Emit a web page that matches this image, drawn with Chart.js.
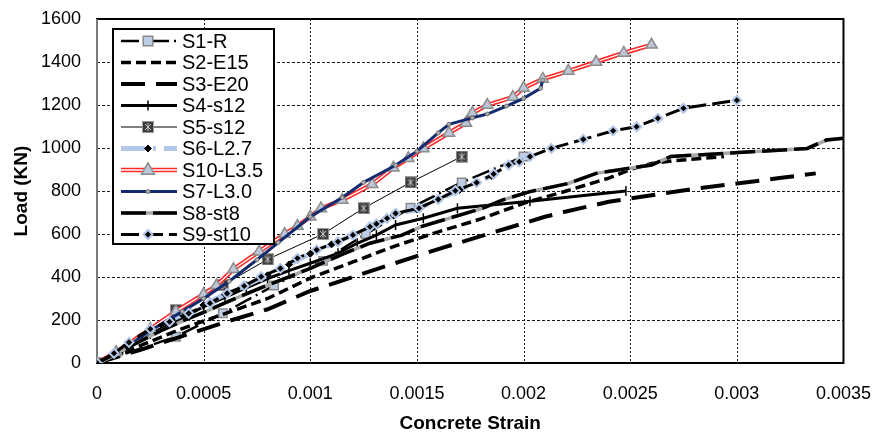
<!DOCTYPE html>
<html>
<head>
<title>Load vs Concrete Strain</title>
<script src="https://cdn.jsdelivr.net/npm/chart.js"></script>
<style>
  body { margin: 0; background: #fff; }
</style>
</head>
<body>
<canvas id="strainChart" width="883" height="435"></canvas>
<script>
// tick labels
const xTicks = [0, 0.0005, 0.001, 0.0015, 0.002, 0.0025, 0.003, 0.0035];
const yTicks = [0, 200, 400, 600, 800, 1000, 1200, 1400, 1600];

// [strain, load kN]
const S1 = [[0,0],[0.00037,122],[0.00059,231],[0.00083,360],[0.00106,475],[0.00126,600],[0.00147,722],[0.00171,840],[0.002,960]];
const S2 = [[0,0],[0.0002,80],[0.0004,160],[0.0006,230],[0.0008,300],[0.001,395],[0.0012,470],[0.0014,545],[0.0016,610],[0.0018,670],[0.002,743],[0.0022,800],[0.0024,860],[0.0025,900],[0.0026,928],[0.0027,940],[0.00294,960]];
const S3 = [[0,0],[0.0002,60],[0.0004,125],[0.0006,190],[0.0008,250],[0.001,335],[0.0012,400],[0.0014,465],[0.0016,530],[0.0018,590],[0.002,650],[0.0021,680],[0.0022,705],[0.0024,750],[0.0026,780],[0.0028,810],[0.003,835],[0.0032,860],[0.00337,882]];
const S4 = [[0,0],[0.00012,62],[0.00025,135],[0.0004,210],[0.0005,262],[0.0006,305],[0.0007,350],[0.0008,392],[0.0009,430],[0.001,464],[0.00113,510],[0.00122,557],[0.00131,595],[0.0014,642],[0.00153,673],[0.00169,720],[0.00203,752],[0.00248,800]];
const S5 = [[0,0],[0.00037,246],[0.00059,362],[0.0008,482],[0.00106,600],[0.00125,720],[0.00147,840],[0.00171,960]];
const S6 = [[0,0],[0.0001,50],[0.0002,120],[0.0003,180],[0.0004,225],[0.0005,270],[0.0006,320],[0.0007,362],[0.0008,408],[0.0009,458],[0.001,508],[0.0011,552],[0.0012,595],[0.0013,640],[0.0014,690],[0.0015,715],[0.0016,760],[0.0017,805],[0.00185,870]];
const S10 = [[0,0],[0.00009,50],[0.00025,158],[0.00037,240],[0.0005,320],[0.00056,360],[0.00064,436],[0.00076,518],[0.00088,600],[0.00094,637],[0.001,680],[0.00105,719],[0.00115,758],[0.00129,831],[0.00139,908],[0.00146,952],[0.00153,998],[0.00165,1070],[0.00173,1116],[0.00176,1163],[0.00183,1200],[0.00195,1237],[0.002,1279],[0.00209,1321],[0.00221,1358],[0.00234,1400],[0.00247,1442],[0.0026,1480]];
const S7 = [[0,0],[0.0001,50],[0.00025,150],[0.0004,240],[0.0005,300],[0.00062,380],[0.00075,480],[0.00085,560],[0.001,680],[0.00115,770],[0.00125,840],[0.0014,920],[0.0015,985],[0.0016,1070],[0.00165,1110],[0.00176,1140],[0.00183,1158],[0.00192,1195],[0.002,1231],[0.00208,1278],[0.00209,1316]];
const S8 = [[0,0],[0.0001,50],[0.0002,100],[0.0003,150],[0.0004,195],[0.0005,235],[0.0006,280],[0.0007,322],[0.0008,362],[0.0009,401],[0.001,440],[0.00116,510],[0.00128,557],[0.00143,595],[0.00152,634],[0.00165,673],[0.00181,720],[0.0019,758],[0.00203,797],[0.00221,835],[0.00234,882],[0.0026,921],[0.00269,960],[0.00333,998],[0.00342,1037],[0.0035,1045]];
const S9 = [[0,0],[0.00008,45],[0.00015,96],[0.00025,158],[0.00034,192],[0.00043,231],[0.00053,278],[0.00061,324],[0.00069,358],[0.00077,401],[0.00086,440],[0.00094,487],[0.00103,526],[0.00113,564],[0.0012,595],[0.00128,634],[0.00131,647],[0.00136,673],[0.0014,696],[0.00151,720],[0.0016,761],[0.00168,801],[0.00178,839],[0.00186,879],[0.00193,921],[0.00198,936],[0.00203,960],[0.00213,998],[0.00228,1040],[0.00242,1080],[0.00253,1099],[0.00263,1138],[0.00275,1185],[0.003,1222]];

function pts(arr) {
    return arr.map(function (p) { return { x: p[0], y: p[1] }; });
}

// dark square with an X for S5
function makeXSquare() {
    let c = document.createElement('canvas');
    c.width = 12; c.height = 12;
    let g = c.getContext('2d');
    g.fillStyle = '#3c3c3c';
    g.fillRect(0, 0, 12, 12);
    g.strokeStyle = '#9a9a9a';
    g.lineWidth = 1;
    g.strokeRect(0.5, 0.5, 11, 11);
    g.strokeStyle = '#c8c8c8';
    g.beginPath();
    g.moveTo(3, 3); g.lineTo(9, 9);
    g.moveTo(9, 3); g.lineTo(3, 9);
    g.moveTo(6, 2); g.lineTo(6, 10);
    g.stroke();
    return c;
}
const xSquare = makeXSquare();

const lightBlue = '#b4c7e7';

let datasets = [
    { label: 'S1-R', data: pts(S1), borderColor: '#000', borderWidth: 2.5, borderDash: [18, 5, 2, 5],
      pointStyle: 'rect', pointRadius: 6, pointBackgroundColor: '#bccde6', pointBorderColor: '#8a8a8a', pointBorderWidth: 1.5 },
    { label: 'S2-E15', data: pts(S2), borderColor: '#000', borderWidth: 3.5, borderDash: [10, 5], pointRadius: 0 },
    { label: 'S3-E20', data: pts(S3), borderColor: '#000', borderWidth: 4, borderDash: [24, 11], pointRadius: 0 },
    { label: 'S4-s12', data: pts(S4), borderColor: '#000', borderWidth: 3, pointStyle: 'line', rotation: 90,
      pointRadius: 5, pointBorderColor: '#000', pointBorderWidth: 1.5 },
    { label: 'S5-s12', data: pts(S5), borderColor: '#000', borderWidth: 1, pointStyle: xSquare, pointRadius: 6 },
    { label: 'S6-L2.7', data: pts(S6), borderColor: lightBlue, borderWidth: 5, borderDash: [24, 8, 3, 8],
      pointStyle: 'rectRot', pointRadius: 3.5, pointBackgroundColor: '#000', pointBorderColor: '#000', pointBorderWidth: 1 },
    { label: 'S10-L3.5', data: pts(S10), borderColor: '#ff2a2a', borderWidth: 4.5, pointRadius: 0 },
    { label: 'S10-L3.5 inner', data: pts(S10), borderColor: '#fff', borderWidth: 1.3,
      pointStyle: 'triangle', pointRadius: 6.5, pointBackgroundColor: '#bcc6d6', pointBorderColor: '#8c8c8c', pointBorderWidth: 1.5 },
    { label: 'S7-L3.0', data: pts(S7), borderColor: '#112b6e', borderWidth: 3, pointStyle: 'circle', pointRadius: 2,
      pointBackgroundColor: '#b0b0b0', pointBorderColor: '#707070', pointBorderWidth: 1 },
    { label: 'S8-st8 grey', data: pts(S8), borderColor: '#a8a8a8', borderWidth: 3.5, pointRadius: 0 },
    { label: 'S8-st8', data: pts(S8), borderColor: '#000', borderWidth: 3.5, borderDash: [25, 7], pointRadius: 0 },
    { label: 'S9-st10', data: pts(S9), borderColor: '#000', borderWidth: 3, borderDash: [18, 6],
      pointStyle: 'rectRot', pointRadius: 4.5, pointBackgroundColor: '#000', pointBorderColor: lightBlue, pointBorderWidth: 2 }
];
datasets.forEach(function (d, i) {
    d.showLine = true;
    d.fill = false;
    d.tension = 0;
    d.order = 20 - i;
});

// legend rows: label and the datasets that make up its sample
const legendRows = [
    ['S1-R', [0]], ['S2-E15', [1]], ['S3-E20', [2]], ['S4-s12', [3]], ['S5-s12', [4]],
    ['S6-L2.7', [5]], ['S10-L3.5', [6, 7]], ['S7-L3.0', [8]], ['S8-st8', [9, 10]], ['S9-st10', [11]]
];

function drawMarker(ctx, ds, x, y) {
    let r = ds.pointRadius;
    if (!r) return;
    let st = ds.pointStyle;
    ctx.save();
    ctx.setLineDash([]);
    if (st instanceof HTMLCanvasElement) {
        ctx.drawImage(st, x - st.width / 2, y - st.height / 2);
        ctx.restore();
        return;
    }
    ctx.fillStyle = ds.pointBackgroundColor || '#000';
    ctx.strokeStyle = ds.pointBorderColor || '#000';
    ctx.lineWidth = ds.pointBorderWidth || 1;
    ctx.beginPath();
    if (st === 'rect') {
        ctx.rect(x - r * 0.8, y - r * 0.8, r * 1.6, r * 1.6);
    } else if (st === 'rectRot') {
        ctx.moveTo(x, y - r); ctx.lineTo(x + r, y); ctx.lineTo(x, y + r); ctx.lineTo(x - r, y); ctx.closePath();
    } else if (st === 'triangle') {
        ctx.moveTo(x, y - r * 1.1); ctx.lineTo(x + r, y + r * 0.65); ctx.lineTo(x - r, y + r * 0.65); ctx.closePath();
    } else if (st === 'line') {
        ctx.moveTo(x, y - r); ctx.lineTo(x, y + r);
        ctx.stroke();
        ctx.restore();
        return;
    } else {
        ctx.arc(x, y, r, 0, Math.PI * 2);
    }
    ctx.fill();
    ctx.stroke();
    ctx.restore();
}

const boxLegend = {
    id: 'boxLegend',
    afterDatasetsDraw(chart) {
        let ctx = chart.ctx;
        let left = 113, top = 29, w = 161, h = 215;
        ctx.save();
        ctx.fillStyle = '#fff';
        ctx.fillRect(left, top, w, h);
        ctx.strokeStyle = '#000';
        ctx.lineWidth = 2;
        ctx.strokeRect(left, top, w, h);
        ctx.font = '20px "Liberation Sans", Arial, sans-serif';
        ctx.textBaseline = 'middle';
        legendRows.forEach(function (row, i) {
            let y = 41 + i * 21.5;
            let parts = row[1].map(function (k) { return chart.data.datasets[k]; });
            parts.forEach(function (ds) {
                ctx.save();
                ctx.strokeStyle = ds.borderColor;
                ctx.lineWidth = ds.borderWidth;
                ctx.setLineDash(ds.borderDash || []);
                ctx.beginPath();
                ctx.moveTo(121, y);
                ctx.lineTo(177, y);
                ctx.stroke();
                ctx.restore();
            });
            parts.forEach(function (ds) { drawMarker(ctx, ds, 148, y); });
            ctx.fillStyle = '#000';
            ctx.fillText(row[0], 182, y + 1);
        });
        ctx.restore();
    }
};

// dashed grid at the tick values, then the plot frame
const frame = {
    id: 'frame',
    beforeDatasetsDraw(chart) {
        let a = chart.chartArea, ctx = chart.ctx;
        let xs = chart.scales.x, ys = chart.scales.y;
        ctx.save();
        ctx.strokeStyle = '#1a1a1a';
        ctx.lineWidth = 1;
        ctx.setLineDash([3, 2]);
        yTicks.forEach(function (v) {
            let py = Math.round(ys.getPixelForValue(v)) + 0.5;
            ctx.beginPath(); ctx.moveTo(a.left, py); ctx.lineTo(a.right, py); ctx.stroke();
        });
        ctx.setLineDash([2, 2]);
        xTicks.forEach(function (v) {
            let px = Math.round(xs.getPixelForValue(v)) + 0.5;
            ctx.beginPath(); ctx.moveTo(px, a.top); ctx.lineTo(px, a.bottom); ctx.stroke();
        });
        ctx.setLineDash([]);
        ctx.strokeStyle = '#000';
        ctx.lineWidth = 2;
        ctx.strokeRect(a.left, a.top, a.right - a.left, a.bottom - a.top);
        ctx.strokeStyle = '#7a7a7a';
        ctx.beginPath();
        ctx.moveTo(a.left, a.top);
        ctx.lineTo(a.left, a.bottom);
        ctx.stroke();
        ctx.restore();
    }
};

const tickFont = { family: '"Liberation Sans", Arial, sans-serif', size: 18 };
const titleFont = { family: '"Liberation Sans", Arial, sans-serif', size: 19, weight: 'bold' };

new Chart(document.getElementById('strainChart').getContext('2d'), {
    type: 'scatter',
    data: { datasets: datasets },
    options: {
        responsive: false,
        animation: false,
        layout: { padding: { top: 19, right: 32, left: 0, bottom: 0 } },
        plugins: { legend: { display: false }, tooltip: { enabled: false } },
        scales: {
            x: {
                type: 'linear', min: 0, max: 0.0035,
                afterBuildTicks: function (s) { s.ticks = xTicks.map(function (v) { return { value: v }; }); },
                afterFit: function (s) { s.height = 72; },
                grid: { display: false },
                border: { display: false },
                ticks: { color: '#000', font: tickFont, padding: 12, maxRotation: 0,
                    callback: function (v) { return String(Number(v.toFixed(4))); } },
                title: { display: true, text: 'Concrete Strain', color: '#000', font: titleFont, padding: { top: 8, bottom: 0 } }
            },
            y: {
                type: 'linear', min: 0, max: 1600,
                afterBuildTicks: function (s) { s.ticks = yTicks.map(function (v) { return { value: v }; }); },
                afterFit: function (s) { s.width = 97; },
                grid: { display: false },
                border: { display: false },
                ticks: { color: '#000', font: tickFont, padding: 8,
                    callback: function (v) { return String(v); } },
                title: { display: true, text: 'Load (KN)', color: '#000', font: titleFont, padding: { top: 10, bottom: 0 } }
            }
        }
    },
    plugins: [frame, boxLegend]
});
</script>
</body>
</html>
